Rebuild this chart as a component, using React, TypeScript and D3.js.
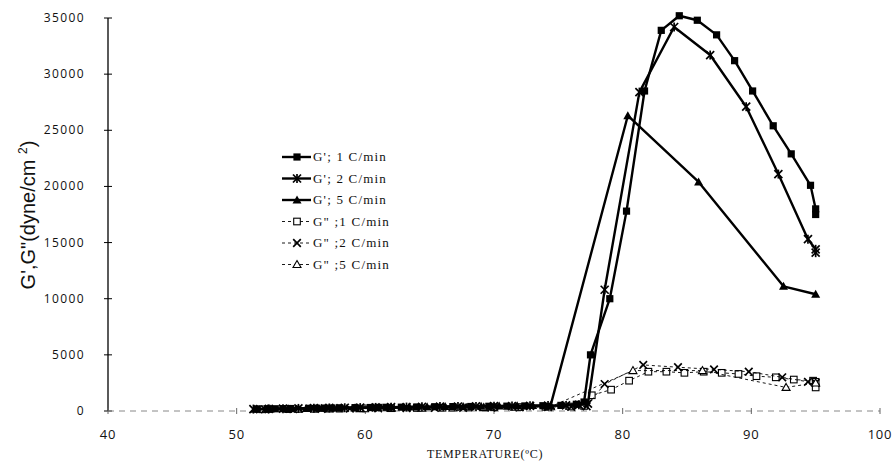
import React from "react";
import * as d3 from "d3";

// ---- Data ----
const xTicks = [40, 50, 60, 70, 80, 90, 100];
const yTicks = [0, 5000, 10000, 15000, 20000, 25000, 30000, 35000];

const g1Temp = [51.6, 52.4, 53.0, 53.6, 54.2, 55.6, 56.2, 56.8, 57.4, 58.0, 59.2, 60.4, 61.0, 61.6, 62.8, 64.0, 65.4, 66.8, 68.2, 69.6, 71.0, 72.4, 73.8, 75.2, 76.4, 77.0, 77.5, 79.0, 80.3, 81.7, 83.0, 84.4, 85.8, 87.3, 88.7, 90.1, 91.7, 93.1, 94.6, 95.0, 95.0];
const g1Val = [180, 190, 200, 210, 220, 240, 250, 260, 270, 280, 300, 310, 320, 330, 340, 360, 380, 390, 400, 420, 430, 450, 470, 500, 600, 800, 5000, 10000, 17800, 28500, 33900, 35200, 34800, 33500, 31200, 28500, 25400, 22900, 20100, 18000, 17500];

const g2Temp = [51.3, 52.5, 53.6, 54.8, 56.0, 57.2, 58.4, 59.6, 60.8, 62.0, 63.2, 64.4, 65.8, 67.2, 68.6, 70.0, 71.4, 72.8, 74.2, 75.6, 76.6, 77.3, 78.6, 81.3, 84.0, 86.8, 89.6, 92.1, 94.4, 95.0, 95.0];
const g2Val = [170, 190, 210, 230, 250, 270, 290, 300, 320, 340, 350, 370, 390, 400, 410, 430, 440, 460, 480, 500, 550, 650, 10800, 28400, 34200, 31700, 27100, 21100, 15300, 14400, 14100];

const g5Temp = [51.4, 52.6, 54.0, 55.4, 56.6, 57.8, 59.2, 60.6, 62.0, 63.4, 64.8, 66.2, 67.6, 69.0, 70.4, 71.8, 73.0, 74.4, 80.4, 85.9, 92.5, 95.0];
const g5Val = [160, 180, 200, 230, 250, 270, 290, 310, 330, 350, 370, 390, 410, 420, 440, 460, 480, 500, 26300, 20400, 11100, 10400];

const gg1Temp = [52.0, 54.0, 56.0, 58.0, 60.0, 62.0, 64.0, 66.0, 68.0, 70.0, 72.0, 74.0, 76.0, 77.0, 77.6, 79.1, 80.5, 82.0, 83.4, 84.8, 86.3, 87.7, 89.0, 90.4, 91.9, 93.3, 94.8, 95.0, 95.0];
const gg1Val = [150, 170, 190, 210, 230, 250, 270, 290, 310, 330, 350, 370, 400, 450, 1400, 1900, 2700, 3500, 3500, 3400, 3500, 3400, 3300, 3100, 3000, 2800, 2700, 2600, 2100];

const gg2Temp = [52.2, 54.4, 56.6, 58.8, 61.0, 63.2, 65.4, 67.6, 69.8, 72.0, 74.2, 76.0, 77.2, 78.6, 81.6, 84.3, 87.1, 89.8, 92.4, 94.4, 95.0];
const gg2Val = [150, 170, 190, 210, 230, 250, 270, 290, 310, 330, 350, 380, 420, 2400, 4100, 3900, 3700, 3500, 3000, 2600, 2500];

const gg5Temp = [52.4, 54.8, 57.2, 59.6, 62.0, 64.4, 66.8, 69.2, 71.6, 74.4, 80.8, 86.2, 92.7, 95.0];
const gg5Val = [150, 170, 190, 210, 230, 250, 270, 300, 330, 380, 3600, 3600, 2100, 2500];

type Marker = "square" | "asterisk" | "triangle" | "openSquare" | "cross" | "openTriangle";

const seriesList: { label: string; temps: number[]; vals: number[]; marker: Marker; dashed: boolean }[] = [
  { label: "G'; 1 C/min", temps: g1Temp, vals: g1Val, marker: "square", dashed: false },
  { label: "G'; 2 C/min", temps: g2Temp, vals: g2Val, marker: "asterisk", dashed: false },
  { label: "G'; 5 C/min", temps: g5Temp, vals: g5Val, marker: "triangle", dashed: false },
  { label: "G\"  ;1 C/min", temps: gg1Temp, vals: gg1Val, marker: "openSquare", dashed: true },
  { label: "G\"  ;2 C/min", temps: gg2Temp, vals: gg2Val, marker: "cross", dashed: true },
  { label: "G\"  ;5 C/min", temps: gg5Temp, vals: gg5Val, marker: "openTriangle", dashed: true },
];

const W = 895;
const H = 465;

const x = d3.scaleLinear().domain([40, 100]).range([108, 880]);
const y = d3.scaleLinear().domain([0, 35000]).range([411, 18]);

function MarkerShape({ type, cx, cy }: { type: Marker; cx: number; cy: number }) {
  const s = 3.6;
  switch (type) {
    case "square":
      return <rect x={cx - s} y={cy - s} width={2 * s} height={2 * s} fill="#000" />;
    case "openSquare":
      return <rect x={cx - 3.3} y={cy - 3.3} width={6.6} height={6.6} fill="#fff" stroke="#000" strokeWidth={1.1} />;
    case "asterisk":
      return (
        <g stroke="#000" strokeWidth={1.7}>
          <line x1={cx - 4} y1={cy - 4} x2={cx + 4} y2={cy + 4} />
          <line x1={cx - 4} y1={cy + 4} x2={cx + 4} y2={cy - 4} />
          <line x1={cx} y1={cy - 4.5} x2={cx} y2={cy + 4.5} />
        </g>
      );
    case "cross":
      return (
        <g stroke="#000" strokeWidth={1.7}>
          <line x1={cx - 3.8} y1={cy - 3.8} x2={cx + 3.8} y2={cy + 3.8} />
          <line x1={cx - 3.8} y1={cy + 3.8} x2={cx + 3.8} y2={cy - 3.8} />
        </g>
      );
    case "triangle":
      return <path d={`M${cx},${cy - 4.5}L${cx + 4.5},${cy + 3.5}L${cx - 4.5},${cy + 3.5}Z`} fill="#000" />;
    case "openTriangle":
      return (
        <path d={`M${cx},${cy - 4}L${cx + 4},${cy + 3}L${cx - 4},${cy + 3}Z`} fill="#fff" stroke="#000" strokeWidth={1.1} />
      );
  }
  return null;
}

export default function App() {
  const line = d3
    .line<[number, number]>()
    .x((d) => x(d[0]))
    .y((d) => y(d[1]));

  const legendX = 282;
  const legendY0 = 157;
  const legendStep = 21.5;

  // draw the thin G'' series first so the heavy G' series sit on top
  const drawOrder = [3, 4, 5, 0, 1, 2];

  return (
    <svg width={W} height={H} style={{ display: "block", position: "absolute", left: 0, top: 0, background: "#fff" }}>
      <rect x={0} y={0} width={W} height={H} fill="#fff" />

      {/* Y axis */}
      <line x1={x(40)} y1={y(0)} x2={x(40)} y2={y(35000)} stroke="#000" strokeWidth={1.3} />
      {yTicks.map((t) => (
        <g key={t}>
          <line x1={x(40) - 4} x2={x(40) + 4} y1={y(t)} y2={y(t)} stroke="#000" strokeWidth={1} />
          <text
            x={85}
            y={y(t) + 4}
            textAnchor="end"
            fontFamily="'Open Sans', sans-serif"
            fontSize={12}
            letterSpacing={1.4}
            fill="#111"
          >
            {t}
          </text>
        </g>
      ))}

      {/* X axis (faint in the scan) */}
      <line x1={x(40)} y1={y(0)} x2={x(100)} y2={y(0)} stroke="#888" strokeWidth={1} strokeDasharray="6,5" />
      {xTicks.map((t) => (
        <g key={t}>
          <line x1={x(t)} x2={x(t)} y1={y(0) - 3} y2={y(0) + 3} stroke="#666" strokeWidth={1} />
          <text
            x={x(t)}
            y={439}
            textAnchor="middle"
            fontFamily="'Open Sans', sans-serif"
            fontSize={13}
            letterSpacing={0.8}
            fill="#111"
          >
            {t}
          </text>
        </g>
      ))}

      <text
        x={485}
        y={458}
        textAnchor="middle"
        fontFamily="'Liberation Serif', 'Times New Roman', serif"
        fontSize={12}
        letterSpacing={0.7}
        fill="#111"
      >
        TEMPERATURE(ºC)
      </text>

      <text
        transform={`translate(35,215) rotate(-90)`}
        textAnchor="middle"
        fontFamily="'Liberation Sans', Arial, sans-serif"
        fontSize={20}
        fill="#111"
      >
        G',G"(dyne/cm <tspan dy={-8} fontSize={12}>2</tspan>
        <tspan dy={8}>)</tspan>
      </text>

      {/* Series */}
      {drawOrder.map((i) => {
        const s = seriesList[i];
        const pts: [number, number][] = s.temps.map((t, j) => [t, s.vals[j]]);
        return (
          <g key={i}>
            <path
              d={line(pts) || ""}
              fill="none"
              stroke="#000"
              strokeWidth={s.dashed ? 0.9 : 2.4}
              strokeDasharray={s.dashed ? "3,3" : undefined}
              strokeLinejoin="round"
            />
            {pts.map((p, j) => (
              <MarkerShape key={j} type={s.marker} cx={x(p[0])} cy={y(p[1])} />
            ))}
          </g>
        );
      })}

      {/* Legend */}
      {seriesList.map((s, i) => {
        const ly = legendY0 + i * legendStep;
        return (
          <g key={"lg" + i}>
            <line
              x1={legendX}
              x2={legendX + 29}
              y1={ly}
              y2={ly}
              stroke="#000"
              strokeWidth={s.dashed ? 0.9 : 2.4}
              strokeDasharray={s.dashed ? "3,3" : undefined}
            />
            <MarkerShape type={s.marker} cx={legendX + 15} cy={ly} />
            <text
              x={legendX + 31}
              y={ly + 4}
              fontFamily="'Liberation Serif', 'Times New Roman', serif"
              fontSize={13}
              letterSpacing={1.2}
              fill="#111"
            >
              {s.label}
            </text>
          </g>
        );
      })}
    </svg>
  );
}
